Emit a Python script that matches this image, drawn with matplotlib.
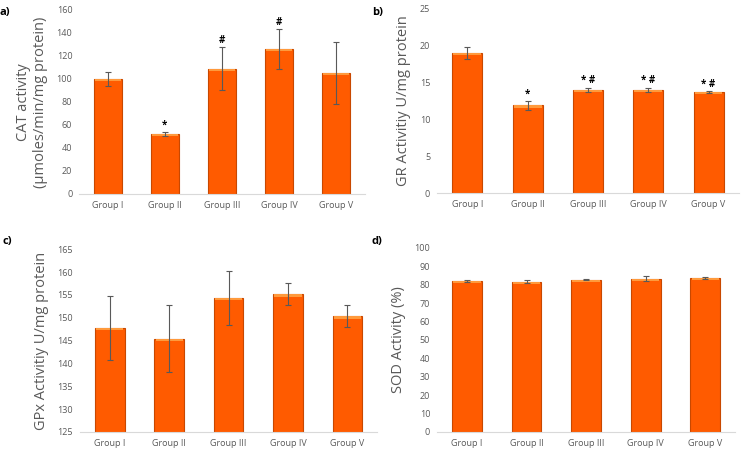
import matplotlib.pyplot as plt
import numpy as np

plt.rcParams['font.family'] = ['Open Sans', 'DejaVu Sans']

groups = ['Group I', 'Group II', 'Group III', 'Group IV', 'Group V']

# a) CAT
cat_mean = [100, 52, 109, 126, 105]
cat_err = [6, 2, 19, 17, 27]
cat_marks = ['', '*', '#', '#', '']

# b) GR
gr_mean = [19.0, 11.9, 14.0, 14.0, 13.7]
gr_err = [0.8, 0.6, 0.3, 0.3, 0.1]
gr_marks = ['', '*', '* #', '* #', '* #']

# c) GPx
gpx_mean = [147.8, 145.4, 154.3, 155.1, 150.3]
gpx_err = [7.0, 7.3, 6.0, 2.4, 2.4]

# d) SOD
sod_mean = [82.0, 81.7, 82.8, 83.2, 83.5]
sod_err = [0.5, 0.8, 0.4, 1.4, 0.5]

bar_col = '#FF5B00'
edge_col = '#C84800'
txt_col = '#595959'

fig = plt.figure(figsize=(7.41, 4.49), dpi=100)

def panel(rect, mean, err, ylim, yticks, ylabel, marks=None, mark_off=0):
    ax = fig.add_axes(rect)
    x = np.arange(len(groups))
    ax.bar(x, mean, width=0.5, color=bar_col, edgecolor=edge_col, linewidth=0.8)
    # light highlight along the top of each bar
    span = ylim[1] - ylim[0]
    ax.bar(x, [span * 0.012] * len(x), bottom=np.array(mean) - span * 0.012,
           width=0.46, color='#FF9A3C', linewidth=0)
    ax.errorbar(x, mean, yerr=err, fmt='none', ecolor=txt_col, elinewidth=0.8,
                capsize=2.5, capthick=0.8)
    if marks:
        for xi, m, e, mk in zip(x, mean, err, marks):
            if mk:
                ax.text(xi, m + e + mark_off, mk, ha='center', va='bottom',
                        fontsize=7, fontweight='bold', color='black')
    ax.set_xlim(-0.5, len(groups) - 0.5)
    ax.set_ylim(*ylim)
    ax.set_yticks(yticks)
    ax.set_xticks(x)
    ax.set_xticklabels(groups)
    ax.tick_params(length=0, labelsize=6.5, colors=txt_col, pad=5)
    for s in ['top', 'right', 'left']:
        ax.spines[s].set_visible(False)
    ax.spines['bottom'].set_color('#D9D9D9')
    ax.set_ylabel(ylabel, fontsize=10.5, color=txt_col, labelpad=6)
    return ax

panel([0.107, 0.568, 0.385, 0.41], cat_mean, cat_err, (0, 160), range(0, 161, 20),
      'CAT activity\n(µmoles/min/mg protein)', cat_marks, 1)
panel([0.590, 0.570, 0.407, 0.41], gr_mean, gr_err, (0, 25), range(0, 26, 5),
      'GR Activitiy U/mg protein', gr_marks, 0.2)
panel([0.108, 0.038, 0.401, 0.407], gpx_mean, gpx_err, (125, 165), range(125, 166, 5),
      'GPx Activitiy U/mg protein')
panel([0.590, 0.038, 0.402, 0.410], sod_mean, sod_err, (0, 100), range(0, 101, 10),
      'SOD Activity (%)')

for lbl, x, y in [('a)', 0.0, 0.985), ('b)', 0.502, 0.985), ('c)', 0.003, 0.475), ('d)', 0.502, 0.475)]:
    fig.text(x, y, lbl, fontsize=8, fontweight='bold', va='top', ha='left')

fig.savefig('out.png', dpi=100)
